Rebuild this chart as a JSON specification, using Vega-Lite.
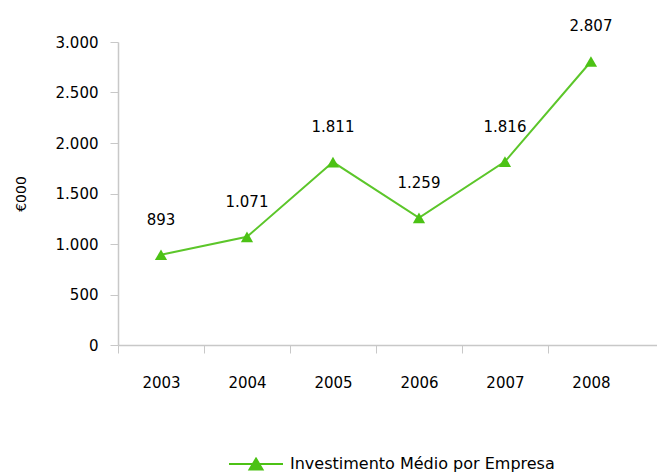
{
  "$schema": "https://vega.github.io/schema/vega-lite/v6.json",
  "width": 539,
  "height": 303,
  "autosize": {"type": "none"},
  "padding": {"left": 118, "top": 42, "right": 0, "bottom": 130},
  "background": "white",
  "config": {
    "locale": {"number": {"decimal": ",", "thousands": ".", "grouping": [3], "currency": ["€", ""]}},
    "font": "DejaVu Sans",
    "view": {"stroke": null},
    "axis": {"labelFont": "DejaVu Sans", "titleFont": "DejaVu Sans", "labelColor": "#000000", "titleColor": "#000000", "domainColor": "#c8c8c8", "tickColor": "#c8c8c8", "grid": false}
  },
  "data": {"values": [
    {"ano": "2003", "valor": 893, "serie": "Investimento Médio por Empresa"},
    {"ano": "2004", "valor": 1071, "serie": "Investimento Médio por Empresa"},
    {"ano": "2005", "valor": 1811, "serie": "Investimento Médio por Empresa"},
    {"ano": "2006", "valor": 1259, "serie": "Investimento Médio por Empresa"},
    {"ano": "2007", "valor": 1816, "serie": "Investimento Médio por Empresa"},
    {"ano": "2008", "valor": 2807, "serie": "Investimento Médio por Empresa"}
  ]},
  "encoding": {
    "x": {
      "field": "ano", "type": "ordinal",
      "scale": {"type": "band", "paddingInner": 0, "paddingOuter": 0.134, "align": 0},
      "axis": {"title": null, "labelAngle": 0, "labelFontSize": 15, "tickBand": "center", "tickOffset": -43, "labelOffset": 43, "tickSize": 8, "labelPadding": 22, "domainWidth": 1.5}
    },
    "y": {
      "field": "valor", "type": "quantitative",
      "scale": {"domain": [0, 3000], "nice": false},
      "axis": {"title": "€000", "titleFontSize": 14, "titleFontWeight": "normal", "titlePadding": 27, "values": [0, 500, 1000, 1500, 2000, 2500, 3000], "format": ",.0f", "labelFontSize": 15, "tickSize": 8, "labelPadding": 12, "domainWidth": 1.5}
    }
  },
  "layer": [
    {
      "mark": {"type": "line", "color": "#5cc62a", "strokeWidth": 2}
    },
    {
      "mark": {"type": "point", "shape": "triangle-up", "filled": true, "size": 150, "opacity": 1},
      "encoding": {
        "color": {
          "field": "serie", "type": "nominal",
          "scale": {"range": ["#4cc215"]},
          "legend": {
            "title": null, "orient": "none", "legendX": 110, "legendY": 394,
            "symbolType": "M-1,0H1M0,-0.2L0.24,0.2H-0.24Z",
            "symbolSize": 2916, "symbolStrokeWidth": 2, "symbolStrokeColor": "#4cc215", "symbolFillColor": "#4cc215",
            "labelFontSize": 16, "labelLimit": 400, "labelFont": "DejaVu Sans", "labelColor": "#000000", "labelOffset": 6
          }
        }
      }
    },
    {
      "mark": {"type": "text", "dy": -35, "fontSize": 15, "font": "DejaVu Sans", "color": "#000000"},
      "encoding": {"text": {"field": "valor", "type": "quantitative", "format": ",.0f"}}
    }
  ]
}
